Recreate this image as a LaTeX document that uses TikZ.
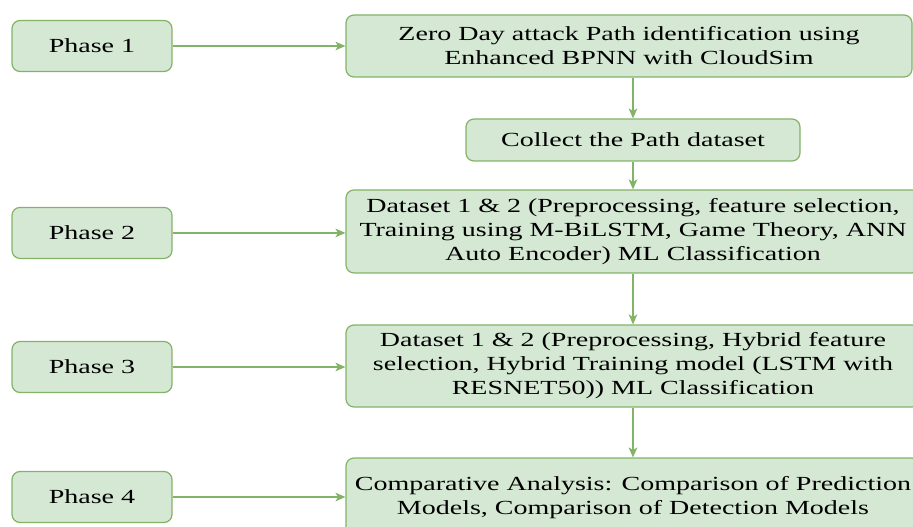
\documentclass[tikz,border=0pt]{standalone}
\usepackage{fontspec}
\setmainfont{Liberation Serif}[FakeStretch=1.4]
\usetikzlibrary{arrows.meta,positioning}
\definecolor{stagefill}{HTML}{D5E8D4}
\definecolor{stageline}{HTML}{82B366}
\begin{document}
\begin{tikzpicture}[x=0.75pt, y=0.75pt, auto]
		
		% Page frame, right and bottom boxes run past it
		\clip (0,0) rectangle (913,-527);
		
		% Define rounded green box styles
		\tikzstyle{stage} = [rectangle, rounded corners=6pt, draw=stageline, line width=0.9pt,
		fill=stagefill, text centered, align=center, inner sep=0pt,
		font=\fontsize{15}{18}\selectfont]
		\tikzstyle{phase} = [stage, minimum width=120pt, minimum height=38.25pt]
		\tikzstyle{flow} = [-{Stealth[length=7.5pt, width=6.5pt, inset=2pt]}, draw=stageline, fill=stageline, line width=0.9pt]
		
		% Process boxes in vertical order
		\node[stage, minimum width=424.5pt, minimum height=46.5pt] (zeroday) at (629,-46)
		{Zero Day attack Path identification using\\Enhanced BPNN with CloudSim};
		\node[stage, below of=zeroday, node distance=70.5pt, xshift=3pt,
		minimum width=250.5pt, minimum height=31.5pt] (collect) {Collect the Path dataset};
		\node[stage, below of=collect, node distance=68.6pt,
		minimum width=430.5pt, minimum height=62.25pt] (dataset)
		{Dataset 1 \& 2 (Preprocessing, feature selection,\\Training using M-BiLSTM, Game Theory, ANN\\Auto Encoder) ML Classification};
		\node[stage, below of=dataset, node distance=100.9pt,
		minimum width=430.5pt, minimum height=61.5pt] (hybrid)
		{Dataset 1 \& 2 (Preprocessing, Hybrid feature\\selection, Hybrid Training model (LSTM with\\RESNET50)) ML Classification};
		\node[stage, below of=hybrid, node distance=99pt,
		minimum width=430.5pt, minimum height=60pt] (compare)
		{Comparative Analysis: Comparison of Prediction\\Models, Comparison of Detection Models};
		
		% Phase labels on the left
		\node[phase, left of=zeroday, node distance=402.75pt] (phase1) {Phase 1};
		\node[phase, left of=dataset, node distance=405.75pt, yshift=-1.1pt] (phase2) {Phase 2};
		\node[phase, left of=hybrid, node distance=405.75pt, yshift=-0.75pt] (phase3) {Phase 3};
		\node[phase, left of=compare, node distance=405.75pt, yshift=0.75pt] (phase4) {Phase 4};
		
		% Arrows
		\draw[flow] (collect.north |- zeroday.south) -- (collect);
		\draw[flow] (collect) -- (dataset);
		\draw[flow] (dataset) -- (hybrid);
		\draw[flow] (hybrid) -- (compare);
		\draw[flow] (phase1) -- (phase1 -| zeroday.west);
		\draw[flow] (phase2) -- (phase2 -| dataset.west);
		\draw[flow] (phase3) -- (phase3 -| hybrid.west);
		\draw[flow] (phase4) -- (phase4 -| compare.west);
		
	\end{tikzpicture}
\end{document}
